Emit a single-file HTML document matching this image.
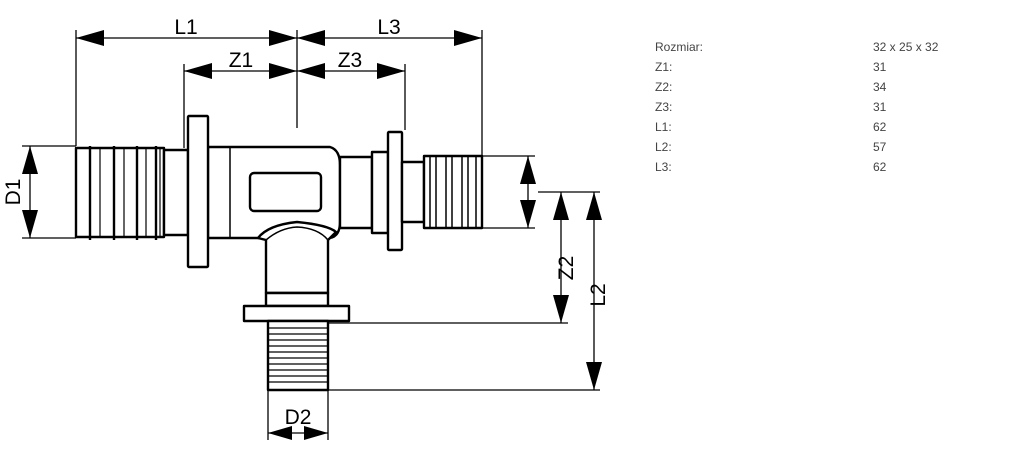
<!DOCTYPE html>
<html><head><style>
body{margin:0;background:#fff;width:1015px;height:453px;overflow:hidden;position:relative}
svg{position:absolute;left:0;top:0}
.t{position:absolute;font-family:"Liberation Sans",sans-serif;font-size:12px;color:#444}
</style></head><body>
<svg width="1015" height="453" viewBox="0 0 1015 453">
<defs>
<marker id="a" markerWidth="28" markerHeight="16" refX="28" refY="8" orient="auto-start-reverse" markerUnits="userSpaceOnUse"><path d="M0,0L28,8L0,16z" fill="#000"/></marker>
<marker id="b" markerWidth="24" markerHeight="14" refX="24" refY="7" orient="auto-start-reverse" markerUnits="userSpaceOnUse"><path d="M0,0L24,7L0,14z" fill="#000"/></marker>
</defs>
<g stroke="#000" stroke-width="1.3" fill="none">
<line x1="76" y1="30" x2="76" y2="146"/>
<line x1="297" y1="30" x2="297" y2="128"/>
<line x1="482" y1="30" x2="482" y2="156"/>
<line x1="184" y1="64" x2="184" y2="148"/>
<line x1="405" y1="64" x2="405" y2="130"/>
<line x1="22" y1="146" x2="76" y2="146"/>
<line x1="22" y1="238" x2="76" y2="238"/>
<line x1="482" y1="156" x2="535" y2="156"/>
<line x1="482" y1="228" x2="535" y2="228"/>
<line x1="538" y1="192" x2="600" y2="192"/>
<line x1="328" y1="323" x2="568" y2="323"/>
<line x1="328" y1="390" x2="600" y2="390"/>
<line x1="268" y1="390" x2="268" y2="440"/>
<line x1="328" y1="390" x2="328" y2="440"/>
<line x1="76" y1="38" x2="297" y2="38" marker-start="url(#a)" marker-end="url(#a)"/>
<line x1="297" y1="38" x2="482" y2="38" marker-start="url(#a)" marker-end="url(#a)"/>
<line x1="184" y1="71" x2="297" y2="71" marker-start="url(#a)" marker-end="url(#a)"/>
<line x1="297" y1="71" x2="405" y2="71" marker-start="url(#a)" marker-end="url(#a)"/>
<line x1="30" y1="146" x2="30" y2="238" marker-start="url(#a)" marker-end="url(#a)"/>
<line x1="528" y1="156" x2="528" y2="228" marker-start="url(#a)" marker-end="url(#a)"/>
<line x1="561" y1="192" x2="561" y2="323" marker-start="url(#a)" marker-end="url(#a)"/>
<line x1="594" y1="192" x2="594" y2="390" marker-start="url(#a)" marker-end="url(#a)"/>
<line x1="268" y1="433" x2="328" y2="433" marker-start="url(#b)" marker-end="url(#b)"/>
</g>
<g stroke="#000" stroke-width="2.4" fill="#fff" stroke-linejoin="round">
<rect x="76" y="148" width="88" height="89"/>
<line x1="90" y1="146" x2="90" y2="240"/><line x1="100" y1="148" x2="100" y2="238" stroke-width="1.2"/>
<line x1="114" y1="146" x2="114" y2="240"/><line x1="124" y1="148" x2="124" y2="238" stroke-width="1.2"/>
<line x1="137" y1="146" x2="137" y2="240"/><line x1="146" y1="148" x2="146" y2="238" stroke-width="1.2"/>
<line x1="156" y1="146" x2="156" y2="240"/><line x1="160" y1="148" x2="160" y2="238" stroke-width="1.2"/>
<rect x="164" y="150" width="24" height="85"/>
<path d="M208,147 H330 Q340,150 340,165 V222 Q340,236 330,238 H208 Z"/>
<line x1="230" y1="147" x2="230" y2="238" stroke-width="1.5"/>
<rect x="250" y="173" width="71" height="38" rx="4"/>
<path d="M258,238 Q268,225 297,222 Q328,225 336,232 L328,240 V293 H266 V240 Z"/>
<path d="M266,240 Q280,228 297,227 Q318,228 328,240" fill="none" stroke-width="1.5"/>
<rect x="266" y="293" width="62" height="13"/>
<rect x="244" y="306" width="105" height="15"/>
<rect x="268" y="321" width="60" height="69"/>
<g stroke-width="1.3">
<line x1="268" y1="328" x2="328" y2="328"/><line x1="268" y1="334" x2="328" y2="334"/>
<line x1="268" y1="340" x2="328" y2="340"/><line x1="268" y1="346" x2="328" y2="346"/>
<line x1="268" y1="352" x2="328" y2="352"/><line x1="268" y1="358" x2="328" y2="358"/>
<line x1="268" y1="364" x2="328" y2="364"/><line x1="268" y1="370" x2="328" y2="370"/>
<line x1="268" y1="376" x2="328" y2="376"/><line x1="268" y1="382" x2="328" y2="382"/>
</g>
<rect x="340" y="157" width="32" height="71"/>
<rect x="372" y="152" width="16" height="81"/>
<rect x="388" y="132" width="14" height="118" rx="1"/>
<rect x="402" y="162" width="22" height="60"/>
<rect x="424" y="156" width="58" height="72"/>
<g stroke-width="1.5">
<line x1="430" y1="156" x2="430" y2="228"/><line x1="436" y1="156" x2="436" y2="228"/>
<line x1="446" y1="156" x2="446" y2="228"/><line x1="452" y1="156" x2="452" y2="228"/>
<line x1="462" y1="156" x2="462" y2="228"/><line x1="468" y1="156" x2="468" y2="228"/>
<line x1="476" y1="156" x2="476" y2="228"/>
</g>
<rect x="188" y="116" width="20" height="151" rx="1"/>
</g>
<g font-family="Liberation Sans,sans-serif" font-size="21" fill="#000">
<text x="186" y="34" text-anchor="middle">L1</text>
<text x="389" y="34" text-anchor="middle">L3</text>
<text x="241" y="67" text-anchor="middle">Z1</text>
<text x="350" y="67" text-anchor="middle">Z3</text>
<text x="298" y="424" text-anchor="middle">D2</text>
<text transform="translate(20,192) rotate(-90)" text-anchor="middle">D1</text>
<text transform="translate(573,268) rotate(-90)" text-anchor="middle">Z2</text>
<text transform="translate(605,295) rotate(-90)" text-anchor="middle">L2</text>
</g>
</svg>
<div class="t" style="left:655px;top:40px">Rozmiar:</div><div class="t" style="left:873px;top:40px">32 x 25 x 32</div>
<div class="t" style="left:655px;top:60px">Z1:</div><div class="t" style="left:873px;top:60px">31</div>
<div class="t" style="left:655px;top:80px">Z2:</div><div class="t" style="left:873px;top:80px">34</div>
<div class="t" style="left:655px;top:100px">Z3:</div><div class="t" style="left:873px;top:100px">31</div>
<div class="t" style="left:655px;top:120px">L1:</div><div class="t" style="left:873px;top:120px">62</div>
<div class="t" style="left:655px;top:140px">L2:</div><div class="t" style="left:873px;top:140px">57</div>
<div class="t" style="left:655px;top:160px">L3:</div><div class="t" style="left:873px;top:160px">62</div>
</body></html>
